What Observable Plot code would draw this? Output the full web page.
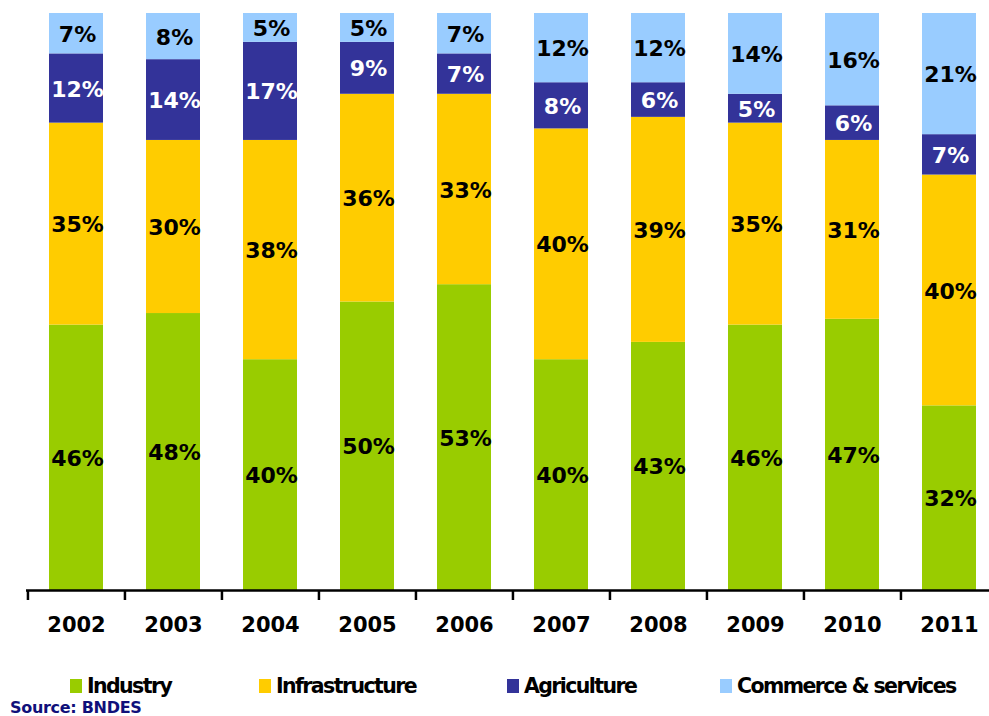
<!DOCTYPE html>
<html>
<head>
<meta charset="utf-8">
<script src="https://cdn.jsdelivr.net/npm/d3@7"></script>
<script src="https://cdn.jsdelivr.net/npm/@observablehq/plot@0.6"></script>
<style>
  html, body { margin: 0; padding: 0; background: #fff; }
  #wrap { position: relative; width: 989px; height: 716px; overflow: hidden; font-family: "DejaVu Sans", Verdana, sans-serif; }
  #chart { position: absolute; left: 0; top: 0; }
  .leg { position: absolute; top: 674px; height: 24px; display: flex; align-items: center; font-weight: bold; font-size: 20.5px; letter-spacing: -1.6px; color: #000; white-space: nowrap; }
  .sw { width: 12px; height: 14px; margin-right: 5px; flex: none; }
  #source { position: absolute; left: 10px; top: 698px; font-weight: bold; font-size: 16px; letter-spacing: -0.3px; color: #10107a; white-space: nowrap; }
</style>
</head>
<body>
<div id="wrap">
  <div id="chart"></div>
  <div id="legend"></div>
  <div id="source">Source: BNDES</div>
</div>
<script>
const years = ["2002","2003","2004","2005","2006","2007","2008","2009","2010","2011"];
const sectors = ["Industry","Infrastructure","Agriculture","Commerce & services"];
const industry       = [46,48,40,50,53,40,43,46,47,32];
const infrastructure = [35,30,38,36,33,40,39,35,31,40];
const agriculture    = [12,14,17,9,7,8,6,5,6,7];
const commerce       = [7,8,5,5,7,12,12,14,16,21];
const colors = ["#99cc00","#ffcc00","#333399","#99ccff"];
const labelColors = ["#000","#000","#fff","#000"];

const series = [industry, infrastructure, agriculture, commerce];
const data = [];
series.forEach((vals, si) => {
  years.forEach((y, yi) => data.push({year: y, sector: sectors[si], value: vals[yi]}));
});

const font = "DejaVu Sans, Verdana, sans-serif";
const chart = Plot.plot({
  width: 989,
  height: 650,
  marginTop: 13,
  marginBottom: 60,
  marginLeft: 26,
  marginRight: 0,
  style: {fontFamily: font, background: "white"},
  x: {domain: years, range: [26.5, 997.5], paddingInner: 0.444, paddingOuter: 0.222, axis: null},
  y: {domain: [0, 100], axis: null},
  color: {domain: sectors, range: colors},
  marks: [
    Plot.barY(data, Plot.stackY({x: "year", y: "value", z: "sector", fill: "sector", order: sectors})),
    Plot.text(data, Plot.stackY({
      x: "year", y: "value", z: "sector", order: sectors,
      text: d => d.value + "%",
      fill: d => labelColors[sectors.indexOf(d.sector)],
      fontSize: 22, fontWeight: "bold", letterSpacing: "-0.5px", dx: 1, dy: 1
    })),
    Plot.ruleY([0], {stroke: "#000", strokeWidth: 2.5}),
    Plot.ruleX(years, {x: d => d, y1: () => 0, y2: () => 0, dx: -48.55, insetBottom: -10, stroke: "#000", strokeWidth: 2.5}),
    Plot.text(years, {x: d => d, y: () => 0, dy: 35, text: d => d, fontSize: 21, fontWeight: "bold", letterSpacing: "-1.5px", fill: "#000"})
  ]
});
document.getElementById("chart").appendChild(chart);

const legendX = [70, 259, 507, 720];
const legend = document.getElementById("legend");
sectors.forEach((s, i) => {
  const item = document.createElement("div");
  item.className = "leg";
  item.style.left = legendX[i] + "px";
  const sw = document.createElement("span");
  sw.className = "sw";
  sw.style.background = colors[i];
  const t = document.createElement("span");
  t.textContent = s;
  item.appendChild(sw);
  item.appendChild(t);
  legend.appendChild(item);
});
</script>
</body>
</html>
